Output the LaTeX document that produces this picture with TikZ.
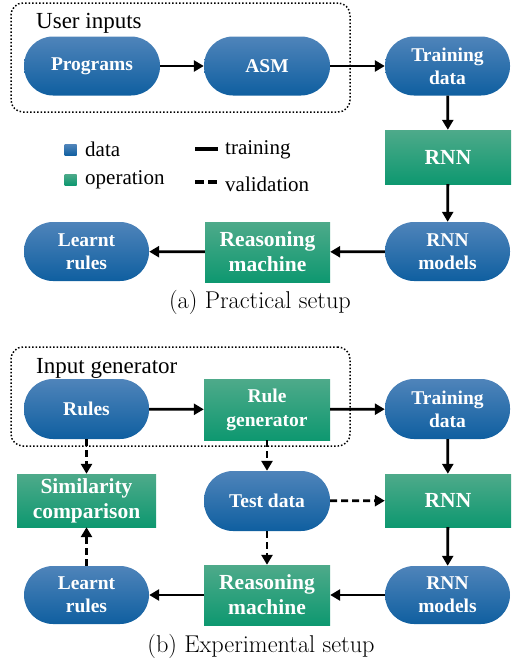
\documentclass[tikz,border=0pt]{standalone}
\usepackage{fontspec}
\newfontfamily\diagfont{Liberation Serif}
\usetikzlibrary{arrows.meta}
\definecolor{bluetop}{HTML}{4F84BA}
\definecolor{bluebot}{HTML}{0F5FA0}
\definecolor{greentop}{HTML}{4EAA8A}
\definecolor{greenbot}{HTML}{0E9870}
\tikzset{
  datanode/.style={rectangle, rounded corners=29pt, top color=bluetop, bottom color=bluebot,
    draw=none, inner sep=0pt, minimum width=125pt, minimum height=59pt,
    text=white, align=center, font=\diagfont\bfseries\fontsize{19.5}{23}\selectfont},
  opnode/.style={rectangle, top color=greentop, bottom color=greenbot,
    draw=none, inner sep=0pt, minimum width=126pt, minimum height=54pt,
    text=white, align=center, font=\diagfont\bfseries\fontsize{21.5}{25}\selectfont},
  groupbox/.style={draw, dotted, line width=1.5pt, rounded corners=12pt, inner sep=0pt},
  grouplabel/.style={font=\diagfont\fontsize{23}{27}\selectfont, anchor=base west, inner sep=0pt},
  legtext/.style={font=\diagfont\fontsize{21}{25}\selectfont, anchor=west, inner sep=0pt},
  caption/.style={font=\fontsize{24.3}{28}\selectfont, anchor=base, inner sep=0pt},
  flow/.style={line width=2.8pt, -{Triangle[length=10pt,width=11pt]}},
  valid/.style={flow, dash pattern=on 7pt off 4pt},
}
\begin{document}
\begin{tikzpicture}[x=1pt,y=-1pt]
\useasboundingbox (0,0) rectangle (519,662);
% ---------- (a) ----------
\node[groupbox, minimum width=339pt, minimum height=109pt] (g1) at (180.5,57.5) {};
\node[grouplabel] (l1) at (36,28) {User inputs};
\node[datanode, minimum width=136pt] (prog) at (92,66) {Programs};
\node[datanode, minimum width=126pt] (asm) at (267,66) {ASM};
\node[datanode] (trainA) at (447.5,66) {Training\\data};
\node[opnode] (rnnA) at (448,157) {RNN};
\node[datanode] (modA) at (447.5,251.5) {RNN\\models};
\node[opnode, minimum width=125pt, minimum height=60pt] (reasA) at (267.5,252) {Reasoning\\machine};
\node[datanode] (learnA) at (86.5,251.5) {Learnt\\rules};
\draw[flow] (prog) -- (asm);
\draw[flow] (asm) -- (trainA);
\draw[flow] (trainA) -- (rnnA);
\draw[flow] (rnnA) -- (modA);
\draw[flow] (modA) -- (reasA);
\draw[flow] (reasA) -- (learnA);
% legend
\node[rectangle, top color=bluetop, bottom color=bluebot, minimum width=12pt, minimum height=11pt, inner sep=0pt] (legb) at (70.5,150) {};
\node[rectangle, top color=greentop, bottom color=greenbot, minimum width=12pt, minimum height=11pt, inner sep=0pt] (legg) at (70.5,179.5) {};
\node[legtext] (legbt) at (85,149) {data};
\node[legtext] (leggt) at (85,180) {operation};
\coordinate (ls1) at (195,149);
\coordinate (ls2) at (218,149);
\coordinate (ld1) at (195,182);
\coordinate (ld2) at (218,182);
\draw[line width=3.2pt] (ls1) -- (ls2);
\draw[line width=3.2pt, dash pattern=on 9pt off 4pt] (ld1) -- (ld2);
\node[legtext] (lst) at (225,150) {training};
\node[legtext] (ldt) at (225,184) {validation};
\node[caption] (capA) at (260,308) {(a) Practical setup};
% ---------- (b) ----------
\node[groupbox, minimum width=339pt, minimum height=99pt] (g2) at (180.5,396.5) {};
\node[grouplabel] (l2) at (36,373) {Input generator};
\node[datanode, minimum height=60pt] (rules) at (86.5,409) {Rules};
\node[opnode, minimum height=61pt, font=\diagfont\bfseries\fontsize{19.5}{24}\selectfont] (rgen) at (267,409.5) {Rule\\generator};
\node[datanode, minimum height=60pt] (trainB) at (447.5,409) {Training\\data};
\node[opnode, minimum width=139pt, minimum height=53pt] (sim) at (86.5,500.5) {Similarity\\comparison};
\node[datanode, minimum width=126pt, minimum height=60pt] (test) at (267,501) {Test data};
\node[opnode, minimum height=53pt] (rnnB) at (448,500.5) {RNN};
\node[datanode, minimum height=58pt] (learnB) at (86.5,595) {Learnt\\rules};
\node[opnode, minimum height=60pt] (reasB) at (267,595) {Reasoning\\machine};
\node[datanode, minimum height=58pt] (modB) at (447.5,595) {RNN\\models};
\draw[flow] (rules) -- (rgen);
\draw[flow] (rgen) -- (trainB);
\draw[flow] (trainB) -- (rnnB);
\draw[flow] (rnnB) -- (modB);
\draw[flow] (modB) -- (reasB);
\draw[flow] (reasB) -- (learnB);
\draw[valid] (rules) -- (sim);
\draw[valid] (rgen) -- (test);
\draw[valid] (test) -- (rnnB);
\draw[valid] (test) -- (reasB);
\draw[valid] (learnB) -- (sim);
\node[caption] (capB) at (261,652) {(b) Experimental setup};
\end{tikzpicture}
\end{document}
